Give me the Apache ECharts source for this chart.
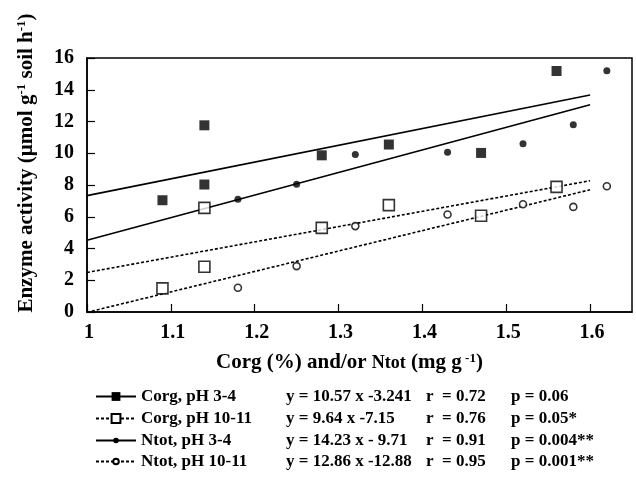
<!DOCTYPE html>
<html>
<head>
<meta charset="utf-8">
<script src="https://cdn.jsdelivr.net/npm/echarts@6/dist/echarts.min.js"></script>
<style>
html, body { margin: 0; padding: 0; background: #fff; }
#chart { width: 636px; height: 494px; }
</style>
</head>
<body>
<div id="chart"></div>
<script>
// measured points, [x, y]
const corgLow = [[1.09, 7.04], [1.14, 11.76], [1.14, 8.03], [1.28, 9.87], [1.36, 10.55], [1.47, 10.02], [1.56, 15.18]];
const corgHigh = [[1.09, 1.49], [1.14, 2.85], [1.14, 6.56], [1.28, 5.30], [1.36, 6.73], [1.47, 6.06], [1.56, 7.88]];
const ntotLow = [[1.18, 7.10], [1.25, 8.05], [1.32, 9.92], [1.43, 10.06], [1.52, 10.60], [1.58, 11.80], [1.62, 15.20]];
const ntotHigh = [[1.18, 1.53], [1.25, 2.89], [1.32, 5.41], [1.43, 6.14], [1.52, 6.79], [1.58, 6.62], [1.62, 7.92]];

// regression line end points
const fitCorgLow = [[1, 7.33], [1.6, 13.67]];
const fitCorgHigh = [[1, 2.49], [1.6, 8.27]];
const fitNtotLow = [[1, 4.52], [1.6, 13.06]];
const fitNtotHigh = [[1, -0.02], [1.6, 7.70]];

const names = ['Corg, pH 3-4', 'Corg, pH 10-11', 'Ntot, pH 3-4', 'Ntot, pH 10-11'];
const equations = ['y = 10.57 x -3.241', 'y = 9.64 x -7.15', 'y = 14.23 x - 9.71', 'y = 12.86 x -12.88'];
const rValues = ['r  = 0.72', 'r  = 0.76', 'r  = 0.91', 'r  = 0.95'];
const pValues = ['p = 0.06', 'p = 0.05*', 'p = 0.004**', 'p = 0.001**'];

const font = 'Liberation Serif';
const chart = echarts.init(document.getElementById('chart'));

const legendRich = {
    a: { width: 145, fontSize: 17, fontWeight: 'bold', fontFamily: font, color: '#000', lineHeight: 20 },
    b: { width: 140, fontSize: 17, fontWeight: 'bold', fontFamily: font, color: '#000', lineHeight: 20 },
    c: { width: 85, fontSize: 17, fontWeight: 'bold', fontFamily: font, color: '#000', lineHeight: 20 },
    d: { fontSize: 17, fontWeight: 'bold', fontFamily: font, color: '#000', lineHeight: 20 }
};
const legendTops = [388, 410, 432, 453];
const legendIconH = [11, 11, 7, 7];

const legends = names.map((n, i) => ({
    data: [n],
    left: 95,
    top: legendTops[i],
    padding: 0,
    itemWidth: 40,
    itemHeight: legendIconH[i],
    itemGap: 5,
    selectedMode: false,
    formatter: () => `{a|${names[i]}}{b|${equations[i]}}{c|${rValues[i]}}{d|${pValues[i]}}`,
    textStyle: { rich: legendRich }
}));

const fits = [fitCorgLow, fitCorgHigh, fitNtotLow, fitNtotHigh];
const points = [corgLow, corgHigh, ntotLow, ntotHigh];
const symbols = ['rect', 'emptyRect', 'circle', 'emptyCircle'];
const sizes = [10, 11, 7, 7];
const dashed = [false, true, false, true];

const series = [];
fits.forEach((f, i) => {
    series.push({
        name: names[i],
        type: 'line',
        data: f,
        symbol: symbols[i],
        showSymbol: false,
        silent: true,
        itemStyle: { color: '#000', borderWidth: 1.5 },
        lineStyle: { color: '#000', width: 1.6, type: dashed[i] ? [3, 2] : 'solid' },
        z: 2
    });
});
points.forEach((p, i) => {
    series.push({
        name: names[i],
        type: 'scatter',
        data: p,
        symbol: symbols[i] === 'emptyRect' ? 'rect' : (symbols[i] === 'emptyCircle' ? 'circle' : symbols[i]),
        symbolSize: sizes[i],
        itemStyle: symbols[i].indexOf('empty') === 0
            ? { color: '#fff', borderColor: '#000', borderWidth: 1.6 }
            : { color: '#000' },
        z: 3
    });
});

const option = {
    animation: false,
    backgroundColor: '#fff',
    grid: { left: 87, right: 4, top: 58, bottom: 182, show: true, borderColor: '#000', borderWidth: 1.5 },
    legend: legends,
    xAxis: {
        type: 'value',
        min: 1,
        max: 1.65,
        interval: 0.1,
        splitLine: { show: false },
        axisLine: { lineStyle: { color: '#000', width: 1.5 } },
        axisTick: { inside: true, length: 8, lineStyle: { color: '#000', width: 1.2 } },
        axisLabel: { showMaxLabel: false, color: '#000', fontSize: 20, fontWeight: 'bold', fontFamily: font, margin: 11, padding: [0, 0, 0, 4] },
        name: '{b|Corg (%) and/or }{s|Ntot}{b| (mg g}{sup| -1}{b|)}',
        nameLocation: 'middle',
        nameGap: 40,
        nameTextStyle: {
            padding: [0, 20, 0, 0],
            rich: {
                b: { fontSize: 21, fontWeight: 'bold', fontFamily: font, color: '#000', lineHeight: 22 },
                s: { fontSize: 18, fontWeight: 'bold', fontFamily: font, color: '#000', lineHeight: 22 },
                sup: { fontSize: 13, fontWeight: 'bold', fontFamily: font, color: '#000', verticalAlign: 'top', lineHeight: 12 }
            }
        }
    },
    yAxis: {
        type: 'value',
        min: 0,
        max: 16,
        interval: 2,
        splitLine: { show: false },
        axisLine: { lineStyle: { color: '#000', width: 1.5 } },
        axisTick: { inside: true, length: 8, lineStyle: { color: '#000', width: 1.2 } },
        axisLabel: { color: '#000', fontSize: 20, fontWeight: 'bold', fontFamily: font, margin: 13 }
    },
    graphic: [{
        type: 'text',
        x: 27,
        y: 163,
        rotation: Math.PI / 2,
        style: {
            text: '{b|Enzyme activity (µmol g}{sup|-1}{b| soil h}{sup|-1}{b|)}',
            align: 'center',
            verticalAlign: 'middle',
            rich: {
                b: { fontSize: 21, fontWeight: 'bold', fontFamily: font, fill: '#000', lineHeight: 24 },
                sup: { fontSize: 13, fontWeight: 'bold', fontFamily: font, fill: '#000', verticalAlign: 'top', lineHeight: 13 }
            }
        }
    }],
    series: series
};

chart.setOption(option);
</script>
</body>
</html>
